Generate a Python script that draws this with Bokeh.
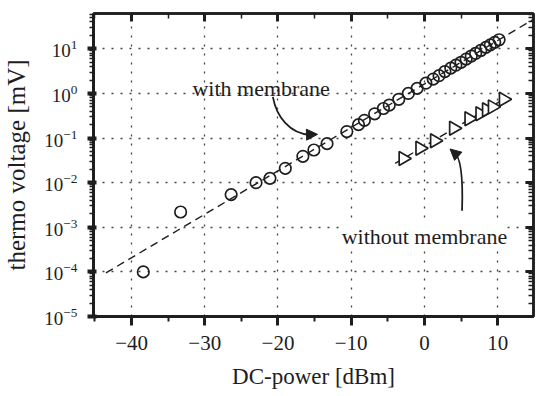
from bokeh.plotting import figure
from bokeh.models import (Range1d, LinearAxis, LogAxis, SingleIntervalTicker, LogTicker,
                          Label, Arrow, NormalHead)
from bokeh.embed import file_html
from bokeh.resources import INLINE

# ---- data ----
with_power = [-38.4, -33.3, -26.4, -23.0, -21.1, -19.0, -16.6, -15.1, -13.3, -10.6,
              -9.0, -8.2, -6.8, -5.6, -4.8, -3.5, -2.2, -1.0, 0.2, 1.2, 2.0, 2.8,
              3.6, 4.3, 5.0, 5.7, 6.4, 7.0, 7.7, 8.4, 9.0, 9.6, 10.2]
with_voltage = [1.0e-4, 2.2e-3, 5.4e-3, 1.0e-2, 1.25e-2, 2.1e-2, 3.9e-2, 5.4e-2, 7.5e-2, 0.14,
                0.20, 0.25, 0.35, 0.46, 0.55, 0.74, 1.0, 1.3, 1.7, 2.1, 2.5, 3.1,
                3.7, 4.3, 5.0, 5.9, 6.9, 7.9, 9.2, 10.8, 12.3, 14.0, 16.0]

without_power = [-2.9, -0.6, 1.4, 4.0, 6.1, 7.6, 8.5, 9.3, 10.8]
without_voltage = [0.035, 0.059, 0.087, 0.166, 0.27, 0.35, 0.43, 0.50, 0.74]

fit_with_power = [-43.5, 15.5]
fit_with_voltage = [9.5e-5, 52.6]
fit_without_power = [-4.0, 10.8]
fit_without_voltage = [0.027, 0.74]

x_label = "DC-power [dBm]"
y_label = "thermo voltage [mV]"
label_with = "with membrane"
label_without = "without membrane"

FONT = "Liberation Serif"
INK = "#1e1e1e"

p = figure(width=536, height=396, x_range=Range1d(-45.2, 14.9), y_range=Range1d(1e-5, 62),
           y_axis_type="log", output_backend="svg", toolbar_location=None,
           min_border_left=92, min_border_right=3, min_border_top=13, min_border_bottom=80,
           background_fill_color="white", border_fill_color="white")
p.outline_line_color = INK
p.outline_line_width = 2.5

# axes
p.xaxis.ticker = SingleIntervalTicker(interval=10, num_minor_ticks=2)
for ax in p.xaxis:
    ax.axis_label = x_label
    ax.axis_label_text_font = FONT
    ax.axis_label_text_font_style = "normal"
    ax.axis_label_text_font_size = "23px"
    ax.axis_label_text_color = INK
    ax.axis_label_standoff = 11
    ax.major_label_text_font = FONT
    ax.major_label_text_font_size = "21px"
    ax.major_label_text_color = INK
    ax.major_label_standoff = 10
    ax.major_tick_out = 9
    ax.major_tick_in = 0
    ax.minor_tick_out = 5
    ax.minor_tick_in = 0
    ax.axis_line_width = 3
    ax.major_tick_line_width = 3
    ax.minor_tick_line_width = 2
    ax.axis_line_color = INK
    ax.major_tick_line_color = INK
    ax.minor_tick_line_color = INK

for ax in p.yaxis:
    ax.ticker = LogTicker(num_minor_ticks=10)
    ax.axis_label = y_label
    ax.axis_label_text_font = FONT
    ax.axis_label_text_font_style = "normal"
    ax.axis_label_text_font_size = "25px"
    ax.axis_label_text_color = INK
    ax.axis_label_standoff = 11
    ax.major_label_text_font = FONT
    ax.major_label_text_font_size = "19px"
    ax.major_label_text_color = INK
    ax.major_label_standoff = 10
    ax.major_tick_out = 6
    ax.major_tick_in = 3
    ax.minor_tick_out = 4
    ax.minor_tick_in = 0
    ax.axis_line_width = 3
    ax.major_tick_line_width = 4
    ax.minor_tick_line_width = 1.5
    ax.axis_line_color = INK
    ax.major_tick_line_color = INK
    ax.minor_tick_line_color = INK

top = LinearAxis(ticker=SingleIntervalTicker(interval=10, num_minor_ticks=2))
right = LogAxis(ticker=LogTicker(num_minor_ticks=10))
for ax in (top, right):
    ax.major_label_text_font_size = "1px"
    ax.major_label_text_color = None
    ax.major_label_standoff = 0
    ax.major_tick_in = 8
    ax.major_tick_out = 0
    ax.minor_tick_in = 5
    ax.minor_tick_out = 0
    ax.axis_line_width = 2.5
    ax.major_tick_line_width = 3
    ax.minor_tick_line_width = 1.5
    ax.axis_line_color = INK
    ax.major_tick_line_color = INK
    ax.minor_tick_line_color = INK
p.add_layout(top, "above")
p.add_layout(right, "right")

# grid
for g in (p.xgrid, p.ygrid):
    g.grid_line_color = "#444444"
    g.grid_line_dash = "2 7"
    g.grid_line_width = 1.3

# fit lines
p.line(fit_with_power, fit_with_voltage, line_color=INK, line_width=1.4, line_dash="8 5")
p.line(fit_without_power, fit_without_voltage, line_color=INK, line_width=1.4, line_dash="8 5")

# data
p.scatter(with_power, with_voltage, marker="circle", size=11.5, fill_color=None,
          line_color=INK, line_width=1.7)
p.scatter(without_power, without_voltage, marker="triangle", size=14, angle=-90,
          angle_units="deg", fill_color="white", line_color=INK, line_width=1.7)

# annotations
p.add_layout(Label(x=-22.3, y=1.3, text=label_with, text_font=FONT, text_font_size="22px",
                   text_color=INK, text_align="center", text_baseline="alphabetic"))
p.add_layout(Label(x=0.0, y=6.2e-4, text=label_without, text_font=FONT, text_font_size="22px",
                   text_color=INK, text_align="center", text_baseline="alphabetic",
                   background_fill_color="white"))

# curved arrows
p.bezier(x0=[-20.7], y0=[0.84], x1=[-15.6], y1=[0.118],
         cx0=[-20.2], cy0=[0.30], cx1=[-18.4], cy1=[0.125], line_color=INK, line_width=1.8)
p.add_layout(Arrow(x_start=-16.2, y_start=0.119, x_end=-14.6, y_end=0.121,
                   line_color=INK, line_width=1.5,
                   end=NormalHead(size=11, fill_color=INK, line_color=INK)))
p.bezier(x0=[5.14], y0=[2.34e-3], x1=[4.0], y1=[0.048],
         cx0=[5.3], cy0=[0.014], cx1=[4.9], cy1=[0.040], line_color=INK, line_width=1.8)
p.add_layout(Arrow(x_start=4.2, y_start=0.045, x_end=3.5, y_end=0.057,
                   line_color=INK, line_width=1.5,
                   end=NormalHead(size=11, fill_color=INK, line_color=INK)))

open("out.html", "w").write(file_html(p, INLINE))
